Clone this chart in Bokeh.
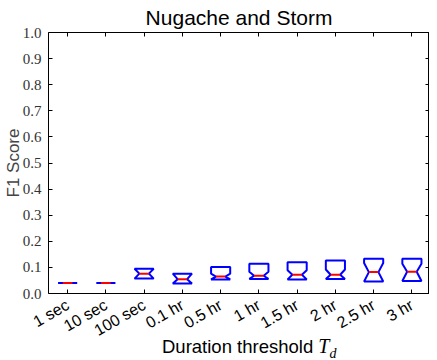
import math
from bokeh.plotting import figure
from bokeh.layouts import column
from bokeh.models import FixedTicker, PrintfTickFormatter, LinearAxis, Range1d, Div
from bokeh.embed import file_html
from bokeh.resources import INLINE

categories = ["1 sec", "10 sec", "100 sec", "0.1 hr", "0.5 hr",
              "1 hr", "1.5 hr", "2 hr", "2.5 hr", "3 hr"]
q1 = [0.040, 0.040, 0.057, 0.038, 0.054, 0.056, 0.054, 0.056, 0.046, 0.048]
median = [0.040, 0.040, 0.076, 0.055, 0.065, 0.068, 0.072, 0.072, 0.082, 0.083]
q3 = [0.040, 0.040, 0.095, 0.076, 0.102, 0.114, 0.120, 0.126, 0.133, 0.133]
notch_lo = [0.040, 0.040, 0.057, 0.038, 0.054, 0.056, 0.054, 0.056, 0.046, 0.048]
notch_hi = [0.040, 0.040, 0.095, 0.076, 0.076, 0.083, 0.089, 0.092, 0.117, 0.114]
y_ticks = [0.0, 0.1, 0.2, 0.3, 0.4, 0.5, 0.6, 0.7, 0.8, 0.9, 1.0]

positions = list(range(1, len(categories) + 1))
BOX_W = 0.5

xs, ys, mx0, mx1 = [], [], [], []
for c, a, m, b, nl, nh in zip(positions, q1, median, q3, notch_lo, notch_hi):
    L, R = c - BOX_W / 2, c + BOX_W / 2
    cL, cR = c - BOX_W / 4, c + BOX_W / 4
    xs.append([L, R, R, cR, R, R, L, L, cL, L, L])
    ys.append([a, a, nl, m, nh, b, b, nh, m, nl, a])
    mx0.append(cL)
    mx1.append(cR)

p = figure(width=429, frame_height=261, output_backend="svg", toolbar_location=None,
           x_range=Range1d(0.5, 10.46), y_range=Range1d(0.0, 1.0),
           min_border_left=44, min_border_right=0, min_border_bottom=0,
           min_border_top=0)
p.background_fill_color = "white"
p.border_fill_color = "white"
p.outline_line_color = "black"
p.outline_line_width = 1
p.xgrid.visible = False
p.ygrid.visible = False

p.title.text = "Nugache and Storm"
p.title.align = "center"
p.title.text_font = "Liberation Sans"
p.title.text_font_size = "21px"
p.title.text_font_style = "normal"
p.title.text_color = "black"
p.title.standoff = 7

# x axis
xa = p.xaxis[0]
xa.ticker = FixedTicker(ticks=positions)
xa.major_label_overrides = {pos: lab for pos, lab in zip(positions, categories)}
xa.major_label_orientation = math.pi / 6
xa.major_label_text_font = "Liberation Sans"
xa.major_label_text_font_size = "16px"
xa.major_label_text_color = "black"
xa.major_label_standoff = 10
xa.major_tick_in = 4
xa.major_tick_out = 0
xa.minor_tick_line_color = None
xa.axis_line_color = None

# y axis
ya = p.yaxis[0]
ya.ticker = FixedTicker(ticks=y_ticks)
ya.formatter = PrintfTickFormatter(format="%.1f")
ya.major_label_text_font = "Liberation Serif"
ya.major_label_text_font_size = "15px"
ya.major_label_text_color = "#333333"
ya.major_label_standoff = 7
ya.major_tick_in = 4
ya.major_tick_out = 0
ya.minor_tick_line_color = None
ya.axis_line_color = None
ya.axis_label = "F1 Score"
ya.axis_label_text_font = "Liberation Sans"
ya.axis_label_text_font_size = "17px"
ya.axis_label_text_font_style = "normal"
ya.axis_label_standoff = -3

# right and top tick-only axes (no labels)
ra = LinearAxis(ticker=FixedTicker(ticks=y_ticks), major_label_text_font_size="0px",
                major_label_overrides={t: "" for t in y_ticks},
                major_label_standoff=0, major_tick_in=4, major_tick_out=0,
                minor_tick_line_color=None, axis_line_color=None)
p.add_layout(ra, "right")
ta = LinearAxis(ticker=FixedTicker(ticks=positions), major_label_text_font_size="0px",
                major_label_overrides={t: "" for t in positions},
                major_label_standoff=0, major_tick_in=4, major_tick_out=0,
                minor_tick_line_color=None, axis_line_color=None)
p.add_layout(ta, "above")

# boxes
p.patches(xs, ys, fill_color=None, line_color="#0000ff", line_width=2)
p.segment(x0=mx0, x1=mx1, y0=median, y1=median, line_color="#ff0000", line_width=2)

# x-axis label (with math-style T_d) as real HTML text
x_label_html = ('<span>Duration threshold </span>'
                '<i style="font-family:\'Liberation Serif\';font-size:20px;">T</i>'
                '<sub style="font-family:\'Liberation Serif\';font-style:italic;font-size:14px;">d</sub>')
lab = Div(text=x_label_html, width=429, height=22,
          styles={"font-family": "Liberation Sans", "font-size": "18.5px", "color": "black",
                  "padding-left": "157px", "margin-top": "-13px", "line-height": "20px",
                  "white-space": "nowrap"})

layout = column(p, lab, spacing=0)
open("out.html", "w").write(file_html(layout, INLINE))
